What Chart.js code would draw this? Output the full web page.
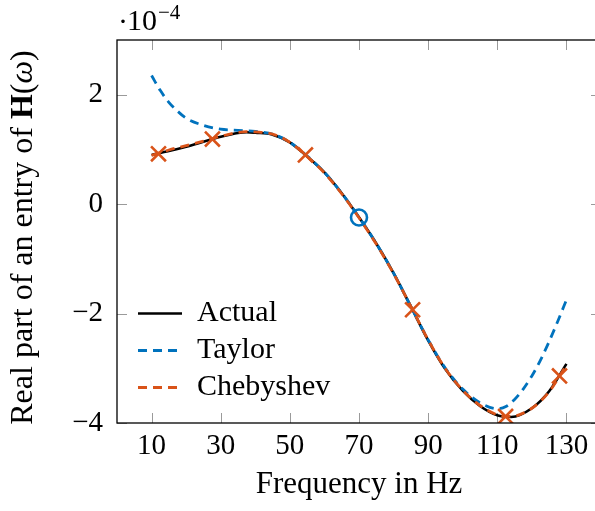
<!DOCTYPE html>
<html>
<head>
<meta charset="utf-8">
<script src="https://cdn.jsdelivr.net/npm/chart.js@4.4.1/dist/chart.umd.min.js"></script>
<style>
html, body { margin: 0; padding: 0; background: #fff; overflow: hidden; }
#wrap { width: 595px; height: 511px; overflow: hidden; }
</style>
</head>
<body>
<!-- the right frame of the plot sits just past the page edge, as in the reference -->
<div id="wrap"><canvas id="chart" width="601" height="511"></canvas></div>
<script>
var SERIF = '"Liberation Serif", "Times New Roman", serif';
var TICK = 10;

// values are in units of 1e-4
var freq = [10, 15, 20, 25, 30, 35, 37.5, 40, 45, 50, 55, 60, 65, 70, 75, 80, 85, 90, 95, 100, 105, 110, 114, 120, 125, 130];
var actual = [0.90, 0.97, 1.05, 1.14, 1.23, 1.30, 1.315, 1.305, 1.27, 1.13, 0.87, 0.58, 0.20, -0.24, -0.72, -1.26, -1.87, -2.49, -3.02, -3.41, -3.69, -3.86, -3.89, -3.73, -3.42, -2.92];
var chebyshev = [0.89, 0.99, 1.07, 1.15, 1.24, 1.31, 1.325, 1.32, 1.28, 1.13, 0.87, 0.57, 0.19, -0.25, -0.73, -1.27, -1.87, -2.48, -3.01, -3.40, -3.68, -3.85, -3.88, -3.73, -3.43, -2.94];

var taylorFreq = [10, 12.5, 15, 17.5, 20, 25, 30, 35, 40, 45, 50, 55, 60, 65, 70, 75, 80, 85, 90, 95, 100, 105, 110, 112.5, 115, 117.5, 120, 122.5, 125, 127.5, 130];
var taylor = [2.35, 2.08, 1.86, 1.70, 1.57, 1.44, 1.37, 1.35, 1.33, 1.28, 1.13, 0.88, 0.58, 0.20, -0.24, -0.72, -1.26, -1.87, -2.48, -3.00, -3.38, -3.63, -3.74, -3.70, -3.57, -3.38, -3.14, -2.85, -2.51, -2.14, -1.75];

var chebNodes = [12.0, 27.6, 54.5, 85.5, 112.4, 128.0];
var chebNodeValues = [0.92, 1.19, 0.90, -1.93, -3.88, -3.14];
var taylorPoint = [70];
var taylorPointValue = [-0.245];

var xTicks = [10, 30, 50, 70, 90, 110, 130];
var yTicks = [-4, -2, 0, 2];

var BLUE = '#0072BD';
var ORANGE = '#D95319';

function pairs(xs, ys) {
	return xs.map(function(x, i) { return {x: x, y: ys[i]}; });
}

function minus(v) {
	return v < 0 ? '\u2212' + Math.abs(v) : String(v);
}

var frame = {
	id: 'frame',
	afterLayout: function(chart) {
		// move the legend into the lower left corner of the plot
		var lg = chart.legend;
		var w = lg.right - lg.left, h = lg.bottom - lg.top;
		lg.left = 131;
		lg.right = lg.left + w;
		lg.bottom = 409.5;
		lg.top = lg.bottom - h;
	},
	beforeDatasetsDraw: function(chart) {
		var ctx = chart.ctx, ca = chart.chartArea;
		var xs = chart.scales.x, ys = chart.scales.y;
		ctx.save();
		ctx.strokeStyle = '#9a9a9a';
		ctx.lineWidth = 1;
		ctx.beginPath();
		xTicks.forEach(function(v) {
			var px = Math.round(xs.getPixelForValue(v)) + 0.5;
			ctx.moveTo(px, ca.bottom); ctx.lineTo(px, ca.bottom - TICK);
			ctx.moveTo(px, ca.top); ctx.lineTo(px, ca.top + TICK);
		});
		yTicks.forEach(function(v) {
			var py = Math.round(ys.getPixelForValue(v)) + 0.5;
			ctx.moveTo(ca.left, py); ctx.lineTo(ca.left + TICK, py);
			ctx.moveTo(ca.right, py); ctx.lineTo(ca.right - TICK, py);
		});
		ctx.stroke();
		ctx.restore();
	},
	afterDraw: function(chart) {
		var ctx = chart.ctx, ca = chart.chartArea;
		ctx.save();
		ctx.strokeStyle = '#000';
		ctx.lineWidth = 1.3;
		ctx.strokeRect(ca.left, ca.top, ca.right - ca.left, ca.bottom - ca.top);

		// exponent above the y axis
		ctx.fillStyle = '#000';
		ctx.textAlign = 'left';
		ctx.textBaseline = 'alphabetic';
		ctx.font = '30px ' + SERIF;
		ctx.fillText('\u00b7', 118, 31);
		ctx.fillText('10', 127, 30);
		ctx.font = '21px ' + SERIF;
		ctx.fillText('\u22124', 158, 19);

		// y axis title with bold H and italic omega
		var parts = [
			['Real part of an entry of ', ''],
			['H', 'bold '],
			['(', ''],
			['\u03c9', 'italic '],
			[')', '']
		];
		var total = 0;
		parts.forEach(function(p) {
			ctx.font = p[1] + '32px ' + SERIF;
			p.push(ctx.measureText(p[0]).width);
			total += p[2];
		});
		ctx.translate(24, 237.5);
		ctx.rotate(-Math.PI / 2);
		ctx.textBaseline = 'middle';
		var x = -total / 2;
		parts.forEach(function(p) {
			ctx.font = p[1] + '32px ' + SERIF;
			ctx.fillText(p[0], x, 0);
			x += p[2];
		});
		ctx.restore();
	}
};

new Chart(document.getElementById('chart'), {
	type: 'scatter',
	data: {
		datasets: [
			{
				label: 'Actual',
				data: pairs(freq, actual),
				showLine: true,
				borderColor: '#000',
				borderWidth: 2.6,
				pointRadius: 0,
				cubicInterpolationMode: 'monotone',
				order: 4
			},
			{
				label: 'Taylor',
				data: pairs(taylorFreq, taylor),
				showLine: true,
				borderColor: BLUE,
				borderWidth: 2.8,
				borderDash: [9, 6],
				pointRadius: 0,
				cubicInterpolationMode: 'monotone',
				order: 3
			},
			{
				label: 'Chebyshev',
				data: pairs(freq, chebyshev),
				showLine: true,
				borderColor: ORANGE,
				borderWidth: 2.8,
				borderDash: [9, 6],
				pointRadius: 0,
				cubicInterpolationMode: 'monotone',
				order: 2
			},
			{
				label: '',
				data: pairs(chebNodes, chebNodeValues),
				showLine: false,
				pointStyle: 'crossRot',
				pointRadius: 10.5,
				pointBorderWidth: 2.6,
				pointBorderColor: ORANGE,
				borderColor: ORANGE,
				order: 1
			},
			{
				label: '',
				data: pairs(taylorPoint, taylorPointValue),
				showLine: false,
				pointStyle: 'circle',
				pointRadius: 8,
				pointBorderWidth: 2.6,
				pointBorderColor: BLUE,
				pointBackgroundColor: 'rgba(0,0,0,0)',
				borderColor: BLUE,
				order: 0
			}
		]
	},
	options: {
		responsive: false,
		animation: false,
		layout: {autoPadding: false, padding: {top: 40, right: 0, left: 0, bottom: 0}},
		plugins: {
			tooltip: {enabled: false},
			legend: {
				position: 'chartArea',
				align: 'end',
				labels: {
					usePointStyle: true,
					pointStyleWidth: 44,
					padding: 7,
					color: '#000',
					font: {family: SERIF, size: 30},
					generateLabels: function(chart) {
						return chart.data.datasets.map(function(ds, i) {
							return {
								text: ds.label,
								strokeStyle: ds.borderColor,
								fillStyle: ds.borderColor,
								lineWidth: ds.borderWidth,
								lineDash: ds.borderDash || [],
								pointStyle: 'line',
								fontColor: '#000',
								hidden: false,
								datasetIndex: i
							};
						}).filter(function(item) { return item.text; });
					}
				}
			}
		},
		scales: {
			x: {
				type: 'linear',
				min: 0,
				max: 140,
				afterBuildTicks: function(s) { s.ticks = xTicks.map(function(v) { return {value: v}; }); },
				afterFit: function(s) { s.height = 88; s.paddingLeft = 0; s.paddingRight = 0; },
				grid: {display: false, drawTicks: false},
				border: {display: false},
				ticks: {color: '#000', font: {family: SERIF, size: 29}, padding: 6, maxRotation: 0, autoSkip: false},
				title: {display: true, text: 'Frequency in Hz', color: '#000', font: {family: SERIF, size: 31}, padding: {top: 0, bottom: 8}}
			},
			y: {
				type: 'linear',
				min: -4,
				max: 3,
				afterBuildTicks: function(s) { s.ticks = yTicks.map(function(v) { return {value: v}; }); },
				afterFit: function(s) { s.width = 117; s.paddingTop = 0; s.paddingBottom = 0; },
				grid: {display: false, drawTicks: false},
				border: {display: false},
				ticks: {color: '#000', font: {family: SERIF, size: 29}, padding: 14, callback: minus}
			}
		}
	},
	plugins: [frame]
});
</script>
</body>
</html>
